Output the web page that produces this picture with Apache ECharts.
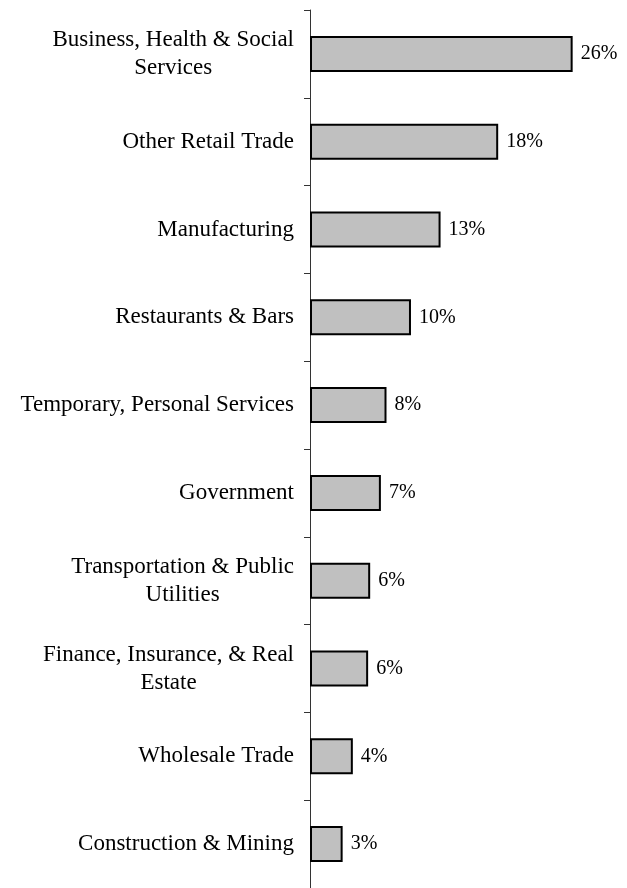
<!doctype html>
<html lang="en">
  <head>
    <meta charset="UTF-8" />
    <title>Industry Share</title>
    <script src="https://cdn.jsdelivr.net/npm/echarts/dist/echarts.min.js"></script>
    <style>
      body {
        margin: 0;
        padding: 0;
        background: #fff;
      }
      .main {
        width: 627px;
        height: 888px;
      }
    </style>
  </head>
  <body>
    <div class="main"></div>
    <script>
      // categories top to bottom
      const industries = [
        "Business, Health & Social\nServices",
        "Other Retail Trade",
        "Manufacturing",
        "Restaurants & Bars",
        "Temporary, Personal Services",
        "Government",
        "Transportation & Public\nUtilities",
        "Finance, Insurance, & Real\nEstate",
        "Wholesale Trade",
        "Construction & Mining",
      ];
      // share in percent
      const shares = [25.75, 18.45, 12.8, 9.9, 7.5, 6.95, 5.9, 5.7, 4.2, 3.2];

      const serif = '"Liberation Serif", "Times New Roman", serif';
      const myChart = echarts.init(document.querySelector(".main"));

      const option = {
        animation: false,
        grid: {
          left: 310,
          top: 10,
          width: 306,
          height: 880,
        },
        xAxis: {
          type: "value",
          min: 0,
          max: 30,
          show: false,
        },
        yAxis: {
          type: "category",
          inverse: true,
          data: industries,
          axisLine: { show: true, lineStyle: { color: "#333", width: 1 } },
          axisTick: { show: true, length: 6, lineStyle: { color: "#333", width: 1 } },
          axisLabel: {
            margin: 16,
            align: "right",
            formatter: (v) => "{c|" + v.split("\n").join("}\n{c|") + "}",
            rich: {
              c: {
                align: "center",
                fontFamily: serif,
                fontSize: 23,
                lineHeight: 28,
                color: "#000",
              },
            },
          },
        },
        series: [
          {
            type: "bar",
            data: shares,
            barWidth: 36,
            itemStyle: {
              color: "#c0c0c0",
              borderColor: "#000",
              borderWidth: 2,
            },
            label: {
              show: true,
              position: "right",
              distance: 8,
              fontFamily: serif,
              fontSize: 20,
              color: "#000",
              formatter: (p) => Math.round(p.value) + "%",
            },
          },
        ],
      };

      myChart.setOption(option);
    </script>
  </body>
</html>
